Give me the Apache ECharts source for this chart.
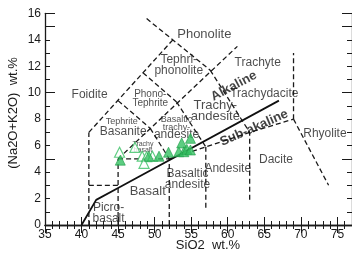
<!DOCTYPE html>
<html><head><meta charset="utf-8">
<script src="https://cdn.jsdelivr.net/npm/echarts@6/dist/echarts.min.js"></script>
<style>html,body{margin:0;padding:0;background:#fff}#c{width:352px;height:253px}</style>
</head><body><div id="c"></div>
<script>
// ---- data ----
const xTickLabels = [35, 40, 45, 50, 55, 60, 65, 70, 75];
const yTickLabels = [0, 2, 4, 6, 8, 10, 12, 14, 16];

// TAS field boundaries (SiO2, Na2O+K2O)
const dashedBoundaries = [
  [[41, 0], [41, 7]],
  [[41, 3], [45, 3]],
  [[45, 0], [45, 5]],
  [[45, 5], [52, 5]],
  [[52, 0], [52, 5]],
  [[52, 5], [57, 5.9], [63, 7], [69, 8]],
  [[57, 1.3], [57, 5.9]],
  [[63, 1.9], [63, 7]],
  [[69, 8], [73.8, 3]],
  [[69, 8], [69, 13]],
  [[41, 7], [52.5, 14]],
  [[45, 5], [61.32, 13.5]],
  [[45, 9.4], [49.4, 7.3]],
  [[49.4, 7.3], [52, 5]],
  [[48.4, 11.5], [53, 9.3]],
  [[53, 9.3], [57, 5.9]],
  [[48.9, 15.6], [57.6, 11.7]],
  [[57.6, 11.7], [63, 7]]
];
const alkalineDivide = [[40, 0], [42, 1.9], [45, 2.8], [67, 9.4]];

// samples
const openSamples = [[45.2, 5.5], [47.3, 5.87], [48.3, 5.2], [48.9, 5.16], [48.55, 4.66], [49.7, 5.2]];
const filledSamples = [[45.3, 4.9], [49.2, 5.2], [50.6, 5.2], [51.9, 5.5], [53.3, 5.54], [53.7, 6.2],
                       [54.0, 5.54], [54.4, 5.72], [54.9, 6.55], [54.9, 5.67]];

// field names [text, SiO2, alkali]
const fieldLabels = [
  ['Phonolite', 56.8, 14.44],
  ['Tephri-\nphonolite', 53.3, 12.06],
  ['Foidite', 41.1, 9.83],
  ['Trachyte', 64.1, 12.3],
  ['Trachydacite', 65.0, 9.95],
  ['Trachy-\nandesite', 58.3, 8.6],
  ['Rhyolite', 73.3, 6.93],
  ['Dacite', 66.6, 4.91],
  ['Andesite', 60.0, 4.29],
  ['Basaltic\nandesite', 54.5, 3.49],
  ['Basalt', 49.05, 2.57],
  ['Picro-\nbasalt', 43.7, 0.91],
  ['Tephrite', 45.5, 7.8],
  ['Basanite', 45.7, 7.05],
  ['Phono-\nTephrite', 49.4, 9.57],
  ['Basaltic\ntrachy-', 53.0, 7.66],
  ['andesite', 53.0, 6.8],
  ['Trachy\nbasalt', 48.4, 5.92]
];
const seriesLabels = [
  ['Alkaline', 60.85, 10.5],
  ['Sub-akaline', 63.6, 7.33]
];

// ---- styles ----
const FONT = 'Liberation Sans, Arial, sans-serif';
const labelStyle = {
  'Tephrite': {fontSize: 9},
  'Phono-\nTephrite': {fontSize: 10, lineHeight: 9},
  'Basaltic\ntrachy-': {fontSize: 9, lineHeight: 8},
  'Trachy\nbasalt': {fontSize: 7, lineHeight: 6},
  'Tephri-\nphonolite': {fontSize: 12, lineHeight: 11},
  'Trachy-\nandesite': {fontSize: 13, lineHeight: 11},
  'Basaltic\nandesite': {fontSize: 12, lineHeight: 11},
  'Picro-\nbasalt': {fontSize: 12, lineHeight: 11},
  'Phonolite': {fontSize: 13},
  'Basalt': {fontSize: 13}
};
const seriesLabelStyle = {'Alkaline': {rotate: 28}, 'Sub-akaline': {rotate: 24}};

const chart = echarts.init(document.getElementById('c'), null, {renderer: 'canvas'});
const axisColor = '#1a1a1a';
function xAx(pos, interval, len, showLabel, showLine) {
  return {
    type: 'value', position: pos, min: 35, max: 77, interval: interval,
    axisLine: {show: showLine, lineStyle: {color: axisColor, width: 1.3}},
    axisTick: {show: true, inside: true, length: len, lineStyle: {color: axisColor, width: 1}},
    axisLabel: showLabel ? {show: true, interval: 0, margin: 4, color: '#1a1a1a', fontSize: 12, fontFamily: FONT,
      showMaxLabel: false,
      formatter: v => xTickLabels.indexOf(v) >= 0 ? String(v) : ''} : {show: false},
    splitLine: {show: false}
  };
}
function yAx(pos, interval, len, showLabel, showLine) {
  return {
    type: 'value', position: pos, min: 0, max: 16, interval: interval,
    axisLine: {show: showLine, lineStyle: {color: axisColor, width: 1.3}},
    axisTick: {show: true, inside: true, length: len, lineStyle: {color: axisColor, width: 1}},
    axisLabel: showLabel ? {show: true, interval: 0, margin: 4, color: '#1a1a1a', fontSize: 12, fontFamily: FONT,
      formatter: v => yTickLabels.indexOf(v) >= 0 ? String(v) : ''} : {show: false},
    splitLine: {show: false}
  };
}

const textData = fieldLabels.map(([t, x, y]) => ({
  value: [x, y],
  label: Object.assign({show: true, position: 'inside', formatter: t, color: '#1e1e1e', fontSize: 12,
    fontFamily: FONT}, labelStyle[t] || {})
}));
const boldData = seriesLabels.map(([t, x, y]) => ({
  value: [x, y],
  label: Object.assign({show: true, position: 'inside', formatter: t, color: '#111', fontSize: 13,
    fontWeight: 'bold', fontFamily: FONT}, seriesLabelStyle[t] || {})
}));

chart.setOption({
  animation: false,
  grid: {left: 45, right: -3.5, top: 13.3, bottom: 28, containLabel: false},
  xAxis: [xAx('bottom', 1, 4, true, true), xAx('bottom', 5, 8, false, false),
          xAx('top', 1, 4, false, true), xAx('top', 5, 8, false, false)],
  yAxis: [yAx('left', 1, 5, true, true), yAx('left', 5, 10, false, false),
          yAx('right', 1, 5, false, true), yAx('right', 5, 10, false, false)],
  series: [
    {type: 'lines', coordinateSystem: 'cartesian2d', polyline: true, silent: true,
      data: dashedBoundaries.map(c => ({coords: c})),
      lineStyle: {color: '#1a1a1a', width: 1.3, type: [5, 3], opacity: 1}},
    {type: 'line', data: alkalineDivide, showSymbol: false, symbol: 'none',
      lineStyle: {color: '#111', width: 1.8}},
    {type: 'scatter', data: textData, symbolSize: 1, itemStyle: {color: 'transparent'}, z: 3},
    {type: 'scatter', data: boldData, symbolSize: 1, itemStyle: {color: 'transparent'}, z: 3},
    {type: 'scatter', data: openSamples, symbol: 'triangle', symbolSize: 10, z: 5,
      itemStyle: {color: '#ffffff', borderColor: '#39c064', borderWidth: 1.2}},
    {type: 'scatter', data: filledSamples, symbol: 'triangle', symbolSize: 10, z: 6,
      itemStyle: {color: '#35c061', borderColor: '#1f9c48', borderWidth: 0.8}}
  ],
  graphic: [
    {type: 'text', x: 208, y: 245, style: {text: 'SiO2  wt.%', font: '13px ' + FONT, fill: '#1a1a1a',
      textAlign: 'center', textVerticalAlign: 'middle'}},
    {type: 'text', x: 13, y: 113, rotation: Math.PI / 2, style: {text: '(Na2O+K2O)  wt.%', font: '13px ' + FONT,
      fill: '#1a1a1a', textAlign: 'center', textVerticalAlign: 'middle'}}
  ]
});
</script></body></html>
